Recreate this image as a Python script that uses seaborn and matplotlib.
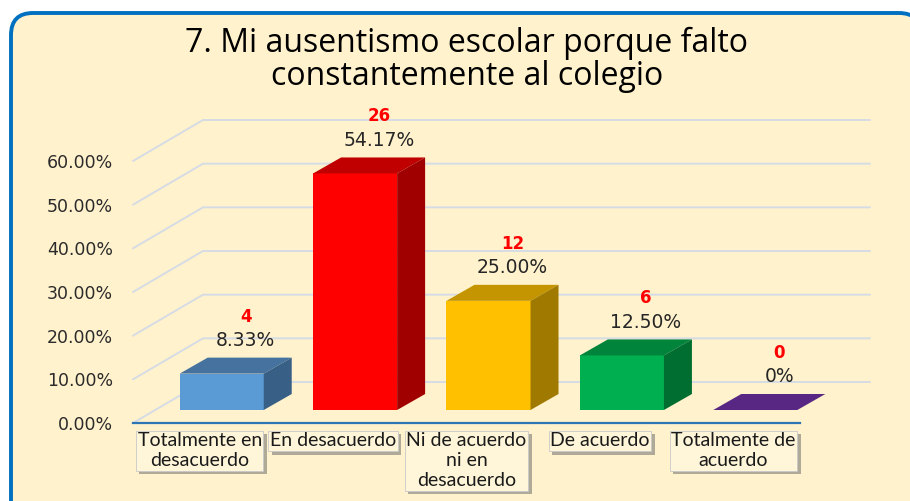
import matplotlib
matplotlib.use("Agg")
import matplotlib.pyplot as plt
import matplotlib.patheffects as pe
import seaborn as sns
import pandas as pd
from matplotlib.patches import Polygon, FancyBboxPatch

# data
categories = ["Totalmente en\ndesacuerdo", "En desacuerdo",
              "Ni de acuerdo\nni en\ndesacuerdo", "De acuerdo",
              "Totalmente de\nacuerdo"]
counts = [4, 26, 12, 6, 0]
percents = [8.33, 54.17, 25.00, 12.50, 0.0]
pct_labels = ["8.33%", "54.17%", "25.00%", "12.50%", "0%"]
y_ticks = [0, 10, 20, 30, 40, 50, 60]

front_colors = ["#5B9BD5", "#FF0000", "#FFC000", "#00B050", "#7030A0"]
top_colors = ["#46729F", "#C00000", "#C49500", "#00843C", "#582683"]
side_colors = ["#385F86", "#A00000", "#A07A00", "#006E30", "#4A1F6E"]

sns.set_style("white")
plt.rcParams['font.family'] = ['DejaVu Sans']

fig = plt.figure(figsize=(9.1, 5.01), dpi=100)
fig.patch.set_facecolor("white")

# rounded cream panel with blue border
frame = FancyBboxPatch((0.11, -0.3), 9.1, 5.18,
                       boxstyle="round,pad=0,rounding_size=0.22",
                       transform=fig.dpi_scale_trans,
                       fc="#FFF2CC", ec="#0070C0", lw=2.8, zorder=-10)
fig.patches.append(frame)

ax = fig.add_axes([133 / 910, 78 / 501, 667 / 910, 262 / 501])
ax.set_facecolor("none")
ax.set_zorder(1)

df = pd.DataFrame({"cat": categories, "pct": percents})
sns.barplot(data=df, x="cat", y="pct", hue="cat", palette=front_colors,
            saturation=1, width=0.63, legend=False, ax=ax)

ax.set_xlim(-0.5, 4.5)
ax.set_ylim(0, 60)

# pixel -> data helpers for the fake 3d depth
px_x = 667 / 5
px_y = 262 / 60
def dx(p):
    return p / px_x
def dy(p):
    return p / px_y

# back wall + side wall gridlines
for v in y_ticks:
    ax.plot([-0.5, -0.5 + dx(70), 4.5 + dx(70)],
            [v, v + dy(41), v + dy(41)],
            color="#D6DCE5", lw=1.4, zorder=1, clip_on=False)

bars = list(ax.patches)
for bar, top_c, side_c, pct, cnt in zip(bars, top_colors, side_colors,
                                        pct_labels, counts):
    x0 = bar.get_x() + dx(22)
    w = bar.get_width()
    h = bar.get_height()
    y0 = dy(13)
    bar.set_x(x0)
    bar.set_y(y0)
    bar.set_linewidth(0)
    bar.set_zorder(3)
    bar.set_clip_on(False)
    ddx, ddy = dx(28), dy(16)
    top = Polygon([(x0, y0 + h), (x0 + w, y0 + h),
                   (x0 + w + ddx, y0 + h + ddy), (x0 + ddx, y0 + h + ddy)],
                  closed=True, fc=top_c, ec="none", zorder=3, clip_on=False)
    ax.add_patch(top)
    if h > 0:
        side = Polygon([(x0 + w, y0), (x0 + w, y0 + h),
                        (x0 + w + ddx, y0 + h + ddy), (x0 + w + ddx, y0 + ddy)],
                       closed=True, fc=side_c, ec="none", zorder=3, clip_on=False)
        ax.add_patch(side)
    cx = x0 + w / 2 + dx(24)
    ax.text(cx, h + dy(46), pct, ha="center", va="center", fontsize=13.5,
            color="#262626", zorder=5, clip_on=False)
    ax.text(cx, h + dy(70), str(cnt), ha="center", va="center", fontsize=12,
            fontweight="bold", color="#FF0000", zorder=5, clip_on=False)

# category boxes with drop shadow
for i, cat in enumerate(categories):
    t = ax.text(i, -dy(9.5), cat, ha="center", va="top", fontsize=14,
                family="Lato", color="#1A1A1A", linespacing=1.2, zorder=5,
                clip_on=False,
                bbox=dict(boxstyle="square,pad=0.08", fc="#FFF6DA",
                          ec="#C8C8C8", lw=0.6))
    t.get_bbox_patch().set_path_effects(
        [pe.SimplePatchShadow(offset=(2.5, -2.5), shadow_rgbFace="#6E6E6E", alpha=0.55),
         pe.Normal()])

ax.set_xticks([])
ax.set_yticks(y_ticks)
ax.set_yticklabels([f"{v:.2f}%" for v in y_ticks])
ax.tick_params(axis="y", length=0, pad=14.4, labelsize=12.5, labelcolor="#2B2B2B")
ax.set_xlabel("")
ax.set_ylabel("")

for s in ["top", "right", "left"]:
    ax.spines[s].set_visible(False)
ax.spines["bottom"].set_color("#2E75B6")
ax.spines["bottom"].set_linewidth(1.6)

fig.text(467 / 910, 1 - 60 / 501,
         "7. Mi ausentismo escolar porque falto\nconstantemente al colegio",
         ha="center", va="center", fontsize=23, family="Open Sans",
         color="#000000", linespacing=1.0)

fig.savefig("out.png", dpi=100)
